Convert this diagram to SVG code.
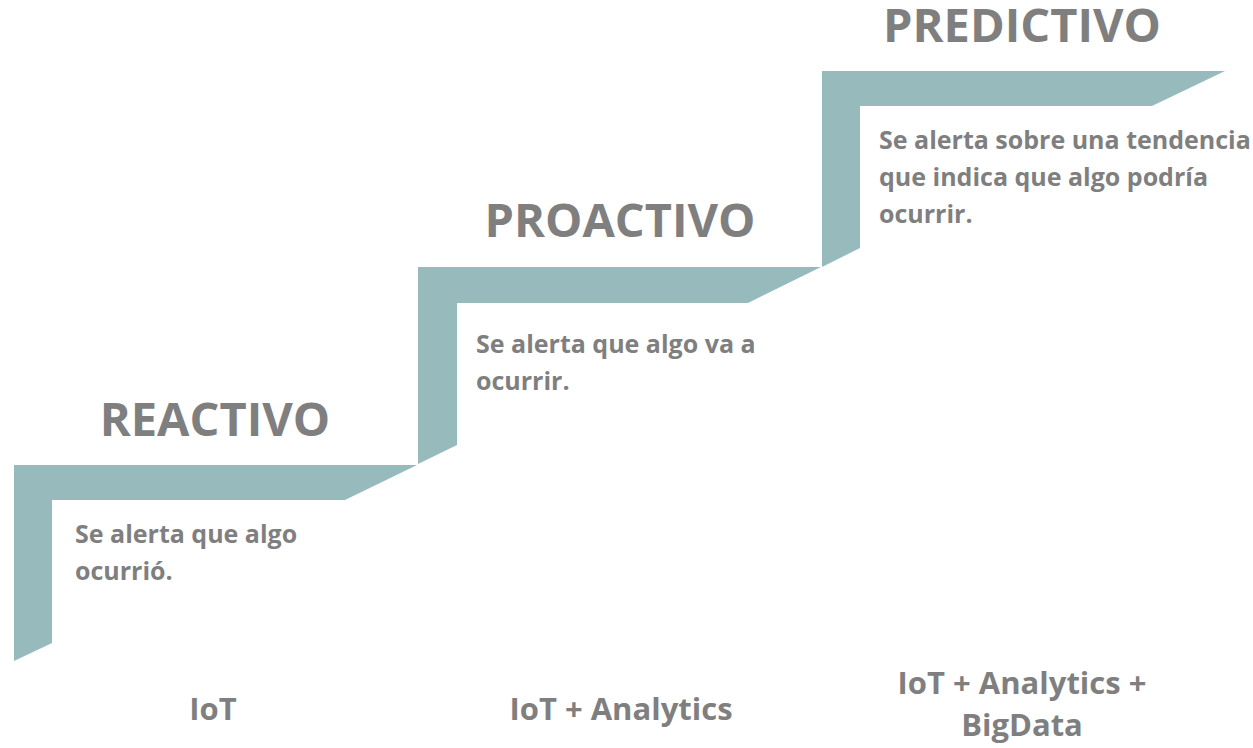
<svg xmlns="http://www.w3.org/2000/svg" width="1253" height="748" viewBox="0 0 1253 748">
  <style>
    .step { fill: #97BABC; }
    text { font-family: "Open Sans", "Noto Sans", "Liberation Sans", sans-serif; font-weight: 700; fill: #7F7F7F; }
    .title { font-size: 47px; text-anchor: middle; }
    .desc { font-size: 25px; }
    .tech { font-size: 31px; text-anchor: middle; }
  </style>
  <rect width="1253" height="748" fill="#FFFFFF"/>
  <g id="connectors"/>
  <g id="step-reactivo">
    <polygon class="step" points="14,465 417,465 345,500 52,500 52,643 14,661"/>
    <text class="title" x="215" y="436">REACTIVO</text>
    <text class="desc" x="75" y="543">Se alerta que algo</text>
    <text class="desc" x="75" y="580">ocurrió.</text>
    <text class="tech" x="213" y="720">IoT</text>
  </g>
  <g id="step-proactivo">
    <polygon class="step" points="418,267 821,267 748,303 457,303 457,445 418,464"/>
    <text class="title" x="620" y="237">PROACTIVO</text>
    <text class="desc" x="476" y="353">Se alerta que algo va a</text>
    <text class="desc" x="476" y="390">ocurrir.</text>
    <text class="tech" x="621" y="720">IoT + Analytics</text>
  </g>
  <g id="step-predictivo">
    <polygon class="step" points="822,71 1225,71 1152,106 860,106 860,248 822,267"/>
    <text class="title" x="1022" y="42">PREDICTIVO</text>
    <text class="desc" x="879" y="149">Se alerta sobre una tendencia</text>
    <text class="desc" x="879" y="186">que indica que algo podría</text>
    <text class="desc" x="879" y="223">ocurrir.</text>
    <text class="tech" x="1022" y="694">IoT + Analytics +</text>
    <text class="tech" x="1022" y="736">BigData</text>
  </g>
</svg>
